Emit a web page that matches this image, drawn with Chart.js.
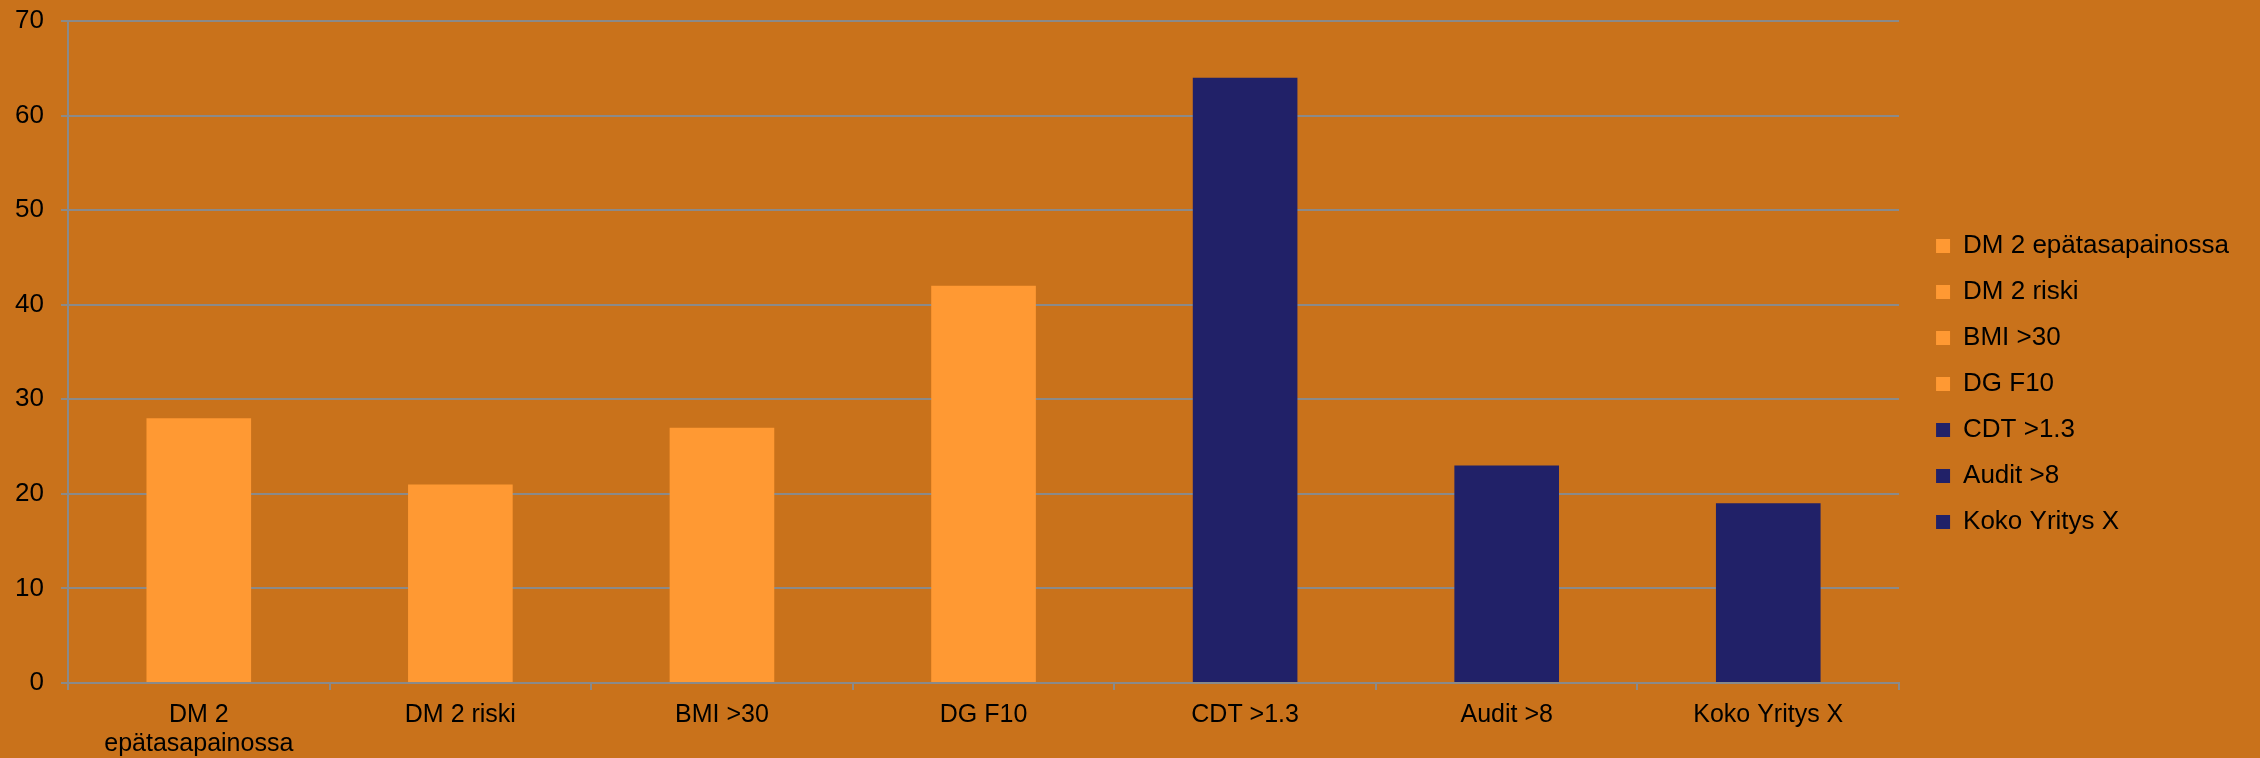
<!DOCTYPE html>
<html lang="fi">
<head>
  <meta charset="UTF-8">
  <title>Riskiryhmät</title>
  <script src="https://cdn.jsdelivr.net/npm/chart.js"></script>
  <style>
    html, body { margin: 0; padding: 0; background-color: #c9721b; }
    .chart-box { width: 2260px; height: 758px; position: relative; }
  </style>
</head>
<body>
<div class="chart-box">
  <canvas id="riskChart"></canvas>
</div>

<script>
const categories = ["DM 2 epätasapainossa", "DM 2 riski", "BMI >30", "DG F10", "CDT >1.3", "Audit >8", "Koko Yritys X"];
const tickLabels = [["DM 2", "epätasapainossa"], "DM 2 riski", "BMI >30", "DG F10", "CDT >1.3", "Audit >8", "Koko Yritys X"];
const values = [28, 21, 27, 42, 64, 23, 19];
const barColors = ["#ff9933", "#ff9933", "#ff9933", "#ff9933", "#212168", "#212168", "#212168"];
const yTicks = [0, 10, 20, 30, 40, 50, 60, 70];

const FONT = "'Liberation Sans', Arial, sans-serif";
const GRID = "#8a8a8a";

new Chart(document.getElementById("riskChart"), {
  type: "bar",
  data: {
    labels: tickLabels,
    datasets: [{
      data: values,
      backgroundColor: barColors,
      borderWidth: 0,
      categoryPercentage: 1.0,
      barPercentage: 0.4
    }]
  },
  options: {
    responsive: true,
    maintainAspectRatio: false,
    devicePixelRatio: 1,
    animation: false,
    layout: { padding: { top: 10, right: 21, bottom: 0, left: 0 } },
    plugins: {
      tooltip: { enabled: false },
      legend: {
        position: "right",
        onClick: null,
        labels: {
          color: "#000",
          font: { family: FONT, size: 26 },
          boxWidth: 14,
          boxHeight: 14,
          padding: 20,
          generateLabels: () => categories.map((name, i) => ({
            text: name,
            fillStyle: barColors[i],
            strokeStyle: barColors[i],
            lineWidth: 0,
            hidden: false,
            index: i
          }))
        }
      }
    },
    scales: {
      x: {
        grid: { drawOnChartArea: false, drawTicks: true, tickLength: 7, color: GRID, lineWidth: 2 },
        border: { color: GRID, width: 2 },
        ticks: { color: "#000", font: { family: FONT, size: 25, lineHeight: 1.15 }, padding: 11, maxRotation: 0, autoSkip: false },
        afterFit: s => { s.height = 75; }
      },
      y: {
        min: 0,
        max: 70,
        afterBuildTicks: s => { s.ticks = yTicks.map(v => ({ value: v })); },
        grid: { color: GRID, lineWidth: 2, tickLength: 7 },
        border: { color: GRID, width: 2 },
        ticks: { color: "#000", font: { family: FONT, size: 26 }, padding: 17 },
        afterFit: s => { s.width = 68; s.paddingTop = 21; s.paddingBottom = 0; }
      },
      gap: {
        type: "linear",
        position: "right",
        display: true,
        grid: { display: false },
        border: { display: false },
        ticks: { display: false },
        afterFit: s => { s.width = 17; }
      }
    }
  }
});
</script>
</body>
</html>
